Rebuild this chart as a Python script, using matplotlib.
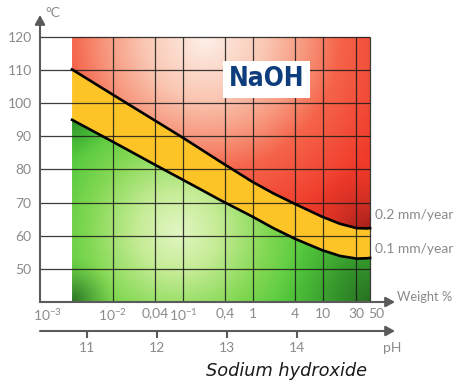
import numpy as np
import matplotlib.pyplot as plt
from matplotlib import font_manager as fm
from matplotlib.patches import Polygon
from matplotlib.transforms import ScaledTranslation

# iso-corrosion lines, weight % vs temperature (deg C)
upper_w = [0.0026, 0.0101, 0.0425, 0.103, 0.338, 0.977, 1.95, 4.07, 9.58, 17.5, 30.3, 42.1, 47]
upper_t = [110.2, 102.5, 94.4, 89.4, 82.4, 76.3, 72.8, 69.5, 65.8, 63.6, 62.3, 62.2, 62.3]
lower_w = [0.0026, 0.0101, 0.0425, 0.175, 0.338, 0.977, 1.95, 4.07, 9.58, 17.5, 30.3, 42.1, 47]
lower_t = [95.0, 88.3, 81.1, 74.1, 70.8, 65.8, 62.3, 59.0, 55.7, 53.9, 53.1, 53.2, 53.3]

region_w = [0.0026, 47]
temp_ticks = [50, 60, 70, 80, 90, 100, 110, 120]
weight_ticks = [0.001, 0.01, 0.04, 0.1, 0.4, 1, 4, 10, 30, 50]
weight_labels = ['$10^{-3}$', '$10^{-2}$', '0,04', '$10^{-1}$', '0,4', '1', '4', '10', '30', '50']
grid_w = [0.01, 0.04, 0.1, 0.4, 1, 4, 10, 30, 47]
ph_ticks = [11, 12, 13, 14]
ph_offset = 13.37   # pH = log10(weight %) + offset

plt.rcParams['font.family'] = ['Lato', 'DejaVu Sans']
plt.rcParams['mathtext.fontset'] = 'custom'
plt.rcParams['mathtext.rm'] = 'Lato'
plt.rcParams['mathtext.it'] = 'Lato:italic'
plt.rcParams['mathtext.bf'] = 'Lato:bold'

W, H = 456, 382
grey = '#8a8a8a'
axis_col = '#5a5a5a'
fs = 10


def condensed_bold():
    # look for an installed narrow/condensed bold face for the NaOH badge
    prefs = ['Liberation Sans Narrow', 'DejaVu Sans', 'Noto Sans', 'Roboto', 'Open Sans']
    found = []
    for f in fm.fontManager.ttflist:
        st = str(f.stretch).lower()
        name = f.name
        fn = f.fname.lower()
        narrow = ('narrow' in name.lower() or 'narrow' in fn
                  or (('condensed' in st or 'condensed' in name.lower() or 'condensed' in fn)
                      and 'extra' not in st and 'ultra' not in st
                      and 'extra' not in fn and 'ultra' not in fn and 'semi' not in fn))
        bold = f.weight in (700, 'bold') or 'bold' in fn
        if narrow and bold and f.style == 'normal' and 'italic' not in fn and 'semibold' not in fn \
                and 'extrabold' not in fn:
            rank = next((i for i, p in enumerate(prefs) if name.startswith(p)), len(prefs))
            found.append((rank, f.fname))
    if found:
        return fm.FontProperties(fname=sorted(found)[0][1]), True
    return fm.FontProperties(family='DejaVu Sans', weight='bold'), False


fig = plt.figure(figsize=(W / 100, H / 100), dpi=100)

# main axes position in pixels
left_px, right_px, top_px, bot_px = 40, 395, 15, 302
pos = [left_px / W, 1 - bot_px / H, (right_px - left_px) / W, (bot_px - top_px) / H]
xlim = (10 ** ((left_px - 253) / 70), 10 ** ((right_px - 253) / 70))
ylim = (40, 120 + (37 - top_px) / 3.314)

# background axes for the gradients (linear in log10 units)
gx = fig.add_axes(pos)
gx.set_xlim(np.log10(xlim))
gx.set_ylim(ylim)
gx.axis('off')

ax = fig.add_axes(pos)
ax.set_xscale('log')
ax.set_xlim(xlim)
ax.set_ylim(ylim)
ax.patch.set_alpha(0)


def radial(px, py, cx, cy, dists, cols):
    d = np.hypot(px - cx, py - cy)
    cols = np.array(cols, float) / 255
    return np.stack([np.interp(d, dists, cols[:, i]) for i in range(3)], -1)


def darken(img, px, py, cx, cy, r, col, k):
    d = np.hypot(px - cx, py - cy)
    w = (np.clip(1 - d / r, 0, 1) ** 1.5 * k)[..., None]
    return img * (1 - w) + np.array(col) / 255 * w


u0, u1 = np.log10(region_w)
uu, tt = np.meshgrid(np.linspace(u0, u1, 300), np.linspace(120, 40, 270))
px = 253 + 70 * uu
py = 37 + (120 - tt) * 3.314

red = radial(px, py, 205, 38, [0, 60, 100, 135, 200],
             [(253, 240, 232), (250, 200, 180), (247, 152, 126), (245, 100, 74), (240, 58, 42)])
red = darken(red, px, py, 370, 232, 70, (150, 25, 22), 0.85)

green = radial(px, py, 178, 232, [0, 40, 90, 130, 180],
               [(226, 246, 196), (198, 236, 150), (130, 216, 82), (82, 200, 60), (62, 178, 50)])
green = darken(green, px, py, 72, 302, 45, (40, 105, 35), 0.9)
green = darken(green, px, py, 72, 120, 40, (40, 135, 40), 0.8)
green = darken(green, px, py, 372, 302, 95, (35, 100, 30), 0.85)

ext = [u0, u1, 40, 120]
im_r = gx.imshow(red, extent=ext, aspect='auto', origin='upper', interpolation='bilinear')
im_g = gx.imshow(green, extent=ext, aspect='auto', origin='upper', interpolation='bilinear')

red_poly = Polygon(list(zip(upper_w, upper_t)) + [(region_w[1], 120), (region_w[0], 120)],
                   transform=ax.transData)
green_poly = Polygon(list(zip(lower_w, lower_t)) + [(region_w[1], 40), (region_w[0], 40)],
                     transform=ax.transData)
im_r.set_clip_path(red_poly)
im_g.set_clip_path(green_poly)

# yellow band between the two lines
band_w = np.concatenate([upper_w, lower_w[::-1]])
band_t = np.concatenate([upper_t, lower_t[::-1]])
ax.fill(band_w, band_t, color='#fdc428', lw=0, zorder=1)

# grid
ax.hlines(temp_ticks, xlim[0], region_w[1], color='#1a1a1a', lw=0.9, alpha=0.85, zorder=2)
ax.vlines(grid_w, 40, 120, color='#1a1a1a', lw=0.9, alpha=0.85, zorder=2)

# curves
ax.plot(upper_w, upper_t, color='black', lw=1.9, zorder=3, solid_joinstyle='round')
ax.plot(lower_w, lower_t, color='black', lw=1.9, zorder=3, solid_joinstyle='round')

for s in ax.spines.values():
    s.set_visible(False)
ax.set_yticks(temp_ticks)
ax.set_xticks(weight_ticks)
ax.set_xticklabels(weight_labels)
ax.minorticks_off()
ax.tick_params(axis='both', length=0, colors=grey, labelsize=fs)
ax.tick_params(axis='y', pad=6)
ax.tick_params(axis='x', pad=4)
labs = ax.get_xticklabels()
labs[0].set_transform(labs[0].get_transform() + ScaledTranslation(4 / 100, 0, fig.dpi_scale_trans))
labs[-1].set_transform(labs[-1].get_transform() + ScaledTranslation(4 / 100, 0, fig.dpi_scale_trans))

arrow = dict(arrowstyle='-|>,head_length=0.55,head_width=0.3', color=axis_col, lw=1.5, shrinkA=0, shrinkB=0)
ax.annotate('', xy=(0, 1), xytext=(0, 0), xycoords='axes fraction', arrowprops=arrow)
ax.annotate('', xy=(1, 0), xytext=(0, 0), xycoords='axes fraction', arrowprops=arrow)

# pH axis
ph_y = 331
ph_ax = fig.add_axes([left_px / W, 1 - ph_y / H, (right_px - left_px) / W, 0.001])
ph_ax.set_xlim(np.log10(xlim) + ph_offset)
ph_ax.patch.set_alpha(0)
for k in ['top', 'left', 'right', 'bottom']:
    ph_ax.spines[k].set_visible(False)
ph_ax.set_yticks([])
ph_ax.set_xticks(ph_ticks)
ph_ax.tick_params(axis='x', direction='out', length=5, width=1.5, color=axis_col,
                  labelcolor=grey, labelsize=fs, pad=3)
ph_ax.annotate('', xy=(1, 0), xytext=(0, 0), xycoords='axes fraction', arrowprops=arrow)


# texts
def ftext(x, y, s, **kw):
    return fig.text(x / W, 1 - y / H, s, **kw)


ftext(45, 13, '°C', color=grey, fontsize=fs, va='center')
ftext(397, 297, 'Weight %', color=grey, fontsize=9.3, va='center')
ftext(392, 348, 'pH', color=grey, fontsize=fs, va='center', ha='center')
ftext(375, 215, '0.2 mm/year', color=grey, fontsize=fs, va='center')
ftext(375, 249, '0.1 mm/year', color=grey, fontsize=fs, va='center')
ftext(287, 371, 'Sodium hydroxide', color='#1a1a1a', fontsize=12.8, style='italic',
      va='center', ha='center', family=['DejaVu Sans'])

badge_font, is_narrow = condensed_bold()
badge_font.set_size(19 if is_narrow else 15)
ftext(266.5, 79.5, 'NaOH', color='#0d3d7d', fontproperties=badge_font, va='center', ha='center',
      bbox=dict(boxstyle='square,pad=0.22', fc='white', ec='none'))

fig.savefig('out.png', dpi=100)
